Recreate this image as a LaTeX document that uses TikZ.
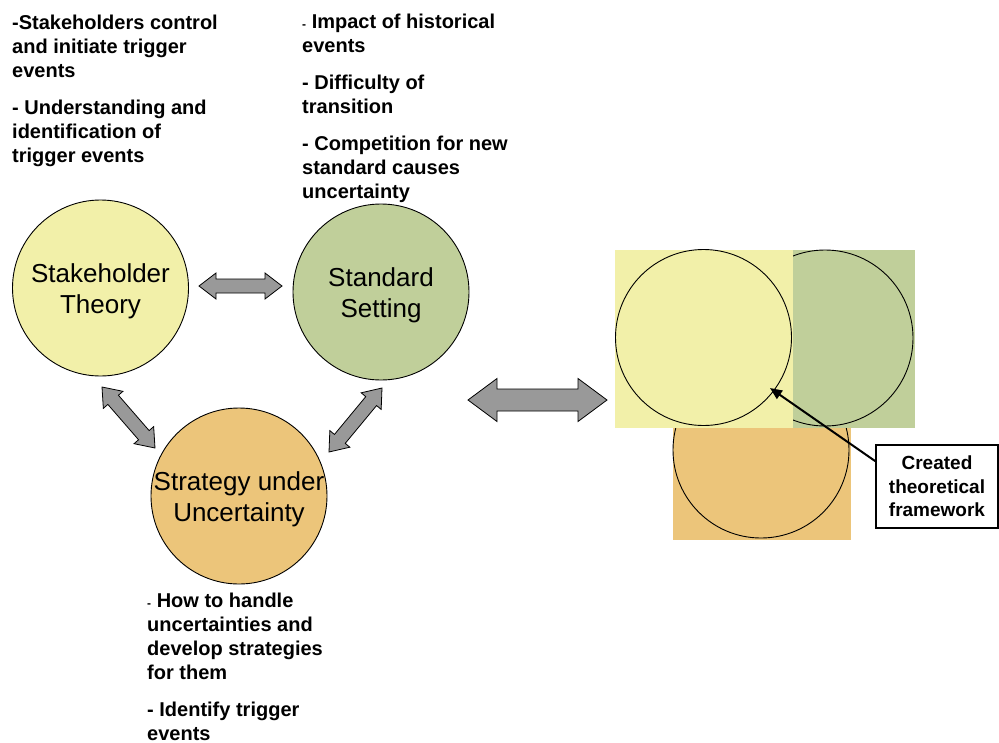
\documentclass[tikz,border=0pt]{standalone}
\usepackage{fontspec}
\setmainfont{Liberation Sans}
\usetikzlibrary{arrows.meta,calc}

\definecolor{paleyellow}{RGB}{242,240,169}
\definecolor{sage}{RGB}{192,207,154}
\definecolor{sand}{RGB}{236,197,122}
\definecolor{arrowgray}{RGB}{153,153,153}

\tikzset{
  theory/.style={circle, draw=black, line width=0.9pt, minimum size=176pt,
    inner sep=0pt, outer sep=0pt},
  theorytext/.style={font=\fontsize{26}{31}\selectfont, align=center,
    inner sep=0pt, yshift=-3pt},
  % notes are placed by the baseline of their last line
  notes/.style={anchor=base west, inner sep=0pt, align=left,
    font=\bfseries\fontsize{20}{24}\selectfont},
  twoway/.style={draw=black, fill=arrowgray, line width=0.8pt, line join=miter},
  ring/.style={draw=black, line width=0.9pt},
  callout/.style={draw=black, line width=1.5pt, fill=white, minimum width=122pt,
    minimum height=83pt, inner sep=0pt, align=center,
    font=\bfseries\fontsize{19}{23.5}\selectfont},
  pointer/.style={draw=black, line width=2pt,
    -{Triangle[length=12pt,width=10pt]}}
}

% small leading dash used in some bullet lists
\newcommand{\smalldash}{{\fontsize{12}{12}\selectfont -}\ }

% grey two-headed block arrow between two named points
% #3 shaft half width, #4 head half width, #5 head length
\newcommand{\twowayarrow}[5]{%
  \draw[twoway] let \p1=(#1), \p2=(#2),
      \n1={atan2(\y2-\y1,\x2-\x1)}, \n2={veclen(\x2-\x1,\y2-\y1)} in
    {[shift={(\p1)}, rotate=\n1]
      (0,0) -- (#5,#4) -- (#5,#3) -- ({\n2-#5},#3) -- ({\n2-#5},#4)
      -- ({\n2},0) -- ({\n2-#5},-#4) -- ({\n2-#5},-#3) -- (#5,-#3)
      -- (#5,-#4) -- cycle};
}

\begin{document}
\begin{tikzpicture}[x=1pt,y=-1pt]
\useasboundingbox (0,0) rectangle (999,742);

% ---- the three theory circles ----
\node[theory, fill=paleyellow,
  label={[theorytext]center:Stakeholder\\Theory}] (st) at (100.5,288) {};
\node[theory, fill=sage,
  label={[theorytext]center:Standard\\Setting}] (ss) at (381,292) {};
\node[theory, fill=sand,
  label={[theorytext]center:Strategy under\\Uncertainty}] (su) at (239,496) {};

% ---- links between the circles ----
\coordinate (ab1) at (199,286);   \coordinate (ab2) at (282,286);
\coordinate (ac1) at (102,387);   \coordinate (ac2) at (155,448);
\coordinate (bc1) at (382,388);   \coordinate (bc2) at (329,452);
\twowayarrow{ab1}{ab2}{7}{13}{17}
\twowayarrow{ac1}{ac2}{7}{13}{17}
\twowayarrow{bc1}{bc2}{7}{13}{17}

% ---- link to the combined framework ----
\coordinate (fw1) at (468,400);   \coordinate (fw2) at (607,400);
\twowayarrow{fw1}{fw2}{11}{21.5}{29}

% ---- notes ----
\node[notes] (n1) at (12,162)
  {-Stakeholders control\\and initiate trigger\\events\\[13pt]
   - Understanding and\\identification of\\trigger events};
\node[notes] (n2) at (302,198)
  {\smalldash Impact of historical\\events\\[13pt]
   - Difficulty of\\transition\\[13pt]
   - Competition for new\\standard causes\\uncertainty};
\node[notes] (n3) at (147,740)
  {\smalldash How to handle\\uncertainties and\\develop strategies\\for them\\[13pt]
   - Identify trigger\\events};

% ---- combined framework ----
\fill[sand] (673,427) rectangle (851,540);
\draw[ring, fill=sand] (761,450) circle[radius=88pt];
\fill[sage] (793,250) rectangle (915,428);
\draw[ring, fill=sage] (825,338) circle[radius=88pt];
\fill[paleyellow] (615,250) rectangle (793,428);
\draw[ring, fill=paleyellow] (703.5,337.5) circle[radius=88pt];

% ---- callout ----
\node[callout] (cb) at (937,486.5) {Created\\theoretical\\framework};
\coordinate (core) at (770,388);
\draw[pointer] ($(cb.north west)!0.2!(cb.south west)$) -- (core);

\end{tikzpicture}
\end{document}
